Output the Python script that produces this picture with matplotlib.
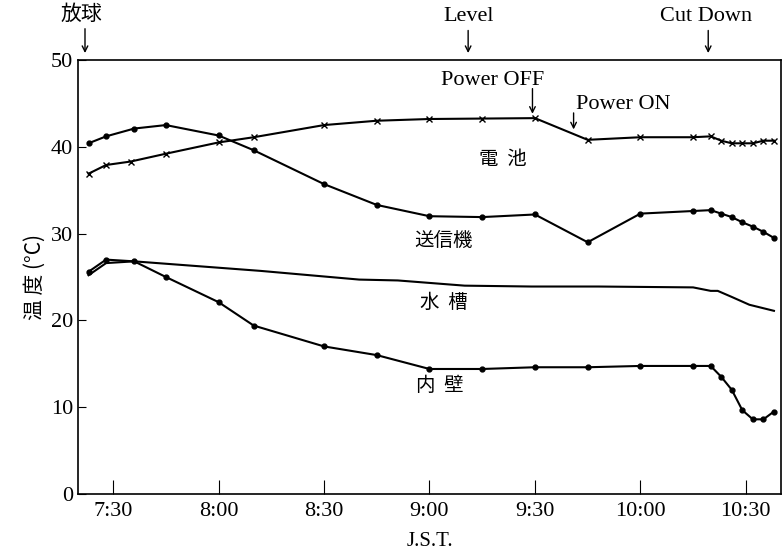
import matplotlib
matplotlib.use("Agg")
import matplotlib.pyplot as plt

plt.rcParams['font.family'] = ['Liberation Serif', 'Noto Sans CJK JP']

# time in minutes since midnight (J.S.T.)
battery_t = [443, 448, 455, 465, 480, 490, 510, 525, 540, 555, 570, 585, 600, 615, 620, 623, 626, 629, 632, 635, 638]
battery_v = [36.9, 37.9, 38.3, 39.2, 40.5, 41.1, 42.5, 43.0, 43.2, 43.25, 43.3, 40.8, 41.1, 41.1, 41.2, 40.7, 40.4, 40.4, 40.4, 40.7, 40.7]

tx_t = [443, 448, 456, 465, 480, 490, 510, 525, 540, 555, 570, 585, 600, 615, 620, 623, 626, 629, 632, 635, 638]
tx_v = [40.4, 41.2, 42.1, 42.5, 41.3, 39.6, 35.7, 33.3, 32.0, 31.9, 32.2, 29.0, 32.3, 32.6, 32.7, 32.3, 31.9, 31.3, 30.8, 30.2, 29.5]

tank_t = [443, 448, 456, 492, 520, 531, 550, 569, 588, 615, 620, 622, 626, 631, 638]
tank_v = [25.2, 26.6, 26.8, 25.7, 24.7, 24.6, 24.0, 23.9, 23.9, 23.8, 23.4, 23.4, 22.7, 21.8, 21.1]

wall_t = [443, 448, 456, 465, 480, 490, 510, 525, 540, 555, 570, 585, 600, 615, 620, 623, 626, 629, 632, 635, 638]
wall_v = [25.6, 27.0, 26.8, 25.0, 22.1, 19.4, 17.0, 16.0, 14.4, 14.4, 14.6, 14.6, 14.75, 14.75, 14.75, 13.5, 12.0, 9.65, 8.6, 8.6, 9.5]

xticks = [450, 480, 510, 540, 570, 600, 630]
xticklabels = ['7:30', '8:00', '8:30', '9:00', '9:30', '10:00', '10:30']
yticks = [0, 10, 20, 30, 40, 50]

fig = plt.figure(figsize=(7.82, 5.6), dpi=100)
ax = fig.add_axes([0.0997, 0.1179, 0.899, 0.775])

ax.plot(battery_t, battery_v, color='black', lw=1.5, marker='x', ms=4, mew=1.0)
ax.plot(tx_t, tx_v, color='black', lw=1.5, marker='o', ms=3.5)
ax.plot(tank_t, tank_v, color='black', lw=1.5)
ax.plot(wall_t, wall_v, color='black', lw=1.5, marker='o', ms=3.5)

ax.set_xlim(440, 640)
ax.set_ylim(0, 50)
ax.set_xticks(xticks)
ax.set_xticklabels(xticklabels)
ax.set_yticks(yticks)
ax.tick_params(axis='x', direction='in', length=10, labelsize=16, pad=6)
ax.tick_params(axis='y', direction='in', length=6, labelsize=16)
for s in ax.spines.values():
    s.set_linewidth(1.2)

ax.set_xlabel('J.S.T.', fontsize=15, labelpad=8)
jp = ['Noto Sans CJK JP', 'DejaVu Sans']
ax.set_ylabel('温 度 (°C)', fontsize=15, family=jp)

ax.text(561, 38.5, '電  池', fontsize=14, family=jp, ha='center', va='center')
ax.text(544, 29.2, '送信機', fontsize=14, family=jp, ha='center', va='center')
ax.text(544, 22.1, '水  槽', fontsize=14, family=jp, ha='center', va='center')
ax.text(543, 12.5, '内  壁', fontsize=14, family=jp, ha='center', va='center')

arrow = dict(arrowstyle='->', color='black', lw=1.0, shrinkA=0, shrinkB=0)

# top event annotations
ax.text(441, 55.3, '放球', fontsize=15, family=jp, ha='center', va='center', clip_on=False)
ax.annotate('', xy=(442, 50.8), xytext=(442, 53.6), annotation_clip=False, arrowprops=arrow)
ax.text(551, 55.0, 'Level', fontsize=16, ha='center', va='center', clip_on=False)
ax.annotate('', xy=(551, 50.8), xytext=(551, 53.4), annotation_clip=False, arrowprops=arrow)
ax.text(618.7, 55.0, 'Cut Down', fontsize=16, ha='center', va='center', clip_on=False)
ax.annotate('', xy=(619.3, 50.8), xytext=(619.3, 53.4), annotation_clip=False, arrowprops=arrow)

ax.text(558, 47.6, 'Power OFF', fontsize=16, ha='center', va='center')
ax.annotate('', xy=(569.3, 43.8), xytext=(569.3, 46.7), arrowprops=arrow)
ax.text(595, 44.9, 'Power ON', fontsize=16, ha='center', va='center')
ax.annotate('', xy=(581, 42.0), xytext=(581, 43.9), arrowprops=arrow)

fig.savefig('out.png', dpi=100)
